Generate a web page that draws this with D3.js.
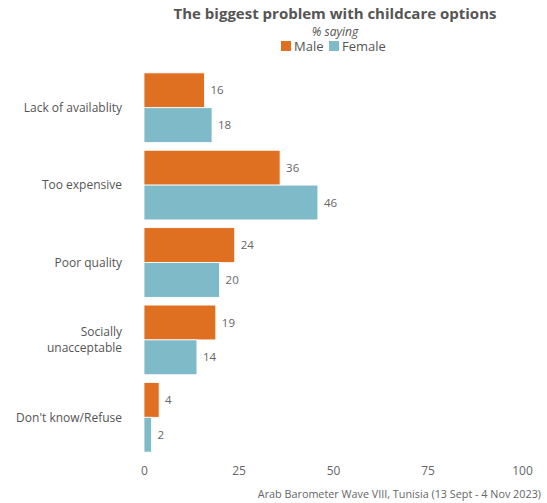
<!DOCTYPE html>
<html><head><meta charset="utf-8">
<script src="https://cdn.jsdelivr.net/npm/d3@7"></script>
<style>
body{margin:0;background:#fff;}
text{font-family:"Open Sans","Noto Sans",sans-serif;}
</style></head>
<body>
<svg id="chart" width="547" height="503"></svg>
<script>
const categories = ["Lack of availablity","Too expensive","Poor quality","Socially unacceptable","Don't know/Refuse"];
const categoryLines = [["Lack of availablity"],["Too expensive"],["Poor quality"],["Socially","unacceptable"],["Don't know/Refuse"]];
const series = ["Male","Female"];
const maleValues = [16,36,24,19,4];
const femaleValues = [18,46,20,14,2];
const xTicks = [0,25,50,75,100];
const colors = {Male:"#E07021", Female:"#7FBAC8"};

const svg = d3.select("#chart");
const x = d3.scaleLinear().domain([0,100]).range([144,522]);
const y = d3.scaleBand().domain(categories).range([69,456]).paddingInner(0.1).paddingOuter(0.05);
const ySub = d3.scaleBand().domain(series).range([0,y.bandwidth()]);

const data = categories.map((c,i)=>({cat:c, lines:categoryLines[i], vals:[{s:"Male",v:maleValues[i]},{s:"Female",v:femaleValues[i]}]}));

const g = svg.append("g").selectAll("g").data(data).join("g")
  .attr("transform", d=>`translate(0,${y(d.cat)})`);
g.selectAll("rect").data(d=>d.vals).join("rect")
  .attr("x", x(0)).attr("y", d=>ySub(d.s))
  .attr("width", d=>x(d.v)-x(0)).attr("height", ySub.bandwidth())
  .attr("fill", d=>colors[d.s]).attr("stroke","#fff").attr("stroke-width",0.8);
g.selectAll("text.val").data(d=>d.vals).join("text").attr("class","val")
  .attr("x", d=>x(d.v)+6).attr("y", d=>ySub(d.s)+ySub.bandwidth()/2)
  .attr("dy","0.35em").attr("font-size",11.5).attr("fill","#666").text(d=>d.v);

// category labels (one text per line)
const labG = svg.append("g").selectAll("g").data(data).join("g");
labG.selectAll("text").data(d=>d.lines.map((t,i)=>({t, i, n:d.lines.length, cat:d.cat}))).join("text")
  .attr("x",122).attr("text-anchor","end").attr("font-size",12).attr("fill","#555")
  .attr("y", d=>y(d.cat)+y.bandwidth()/2 + (d.i-(d.n-1)/2)*16.5)
  .attr("dy","0.35em").text(d=>d.t);

// x axis
const xAxis = d3.axisBottom(x).tickValues(xTicks).tickSize(0).tickPadding(0);
const ax = svg.append("g").attr("transform","translate(0,466)").call(xAxis);
ax.select(".domain").remove();
ax.selectAll("text").attr("font-size",12).attr("fill","#666").attr("font-family","\"Open Sans\",sans-serif");

// title
svg.append("text").attr("x",335).attr("y",19).attr("text-anchor","middle")
  .attr("font-size",15).attr("font-weight","bold").attr("fill","#555")
  .text("The biggest problem with childcare options");
svg.append("text").attr("x",335).attr("y",36).attr("text-anchor","middle")
  .attr("font-size",12).attr("font-style","italic").attr("fill","#555").text("% saying");

// legend
const legend = svg.append("g");
const legItems = [{s:"Male",x:281},{s:"Female",x:329}];
legend.selectAll("rect").data(legItems).join("rect")
  .attr("x",d=>d.x).attr("y",41).attr("width",10).attr("height",10).attr("fill",d=>colors[d.s]);
legend.selectAll("text").data(legItems).join("text")
  .attr("x",d=>d.x+13).attr("y",46.5).attr("dy","0.35em").attr("font-size",13).attr("fill","#555").text(d=>d.s);

// caption
svg.append("text").attr("x",541).attr("y",498).attr("text-anchor","end")
  .attr("font-size",10.8).attr("fill","#666").text("Arab Barometer Wave VIII, Tunisia (13 Sept - 4 Nov 2023)");
</script>
</body></html>
